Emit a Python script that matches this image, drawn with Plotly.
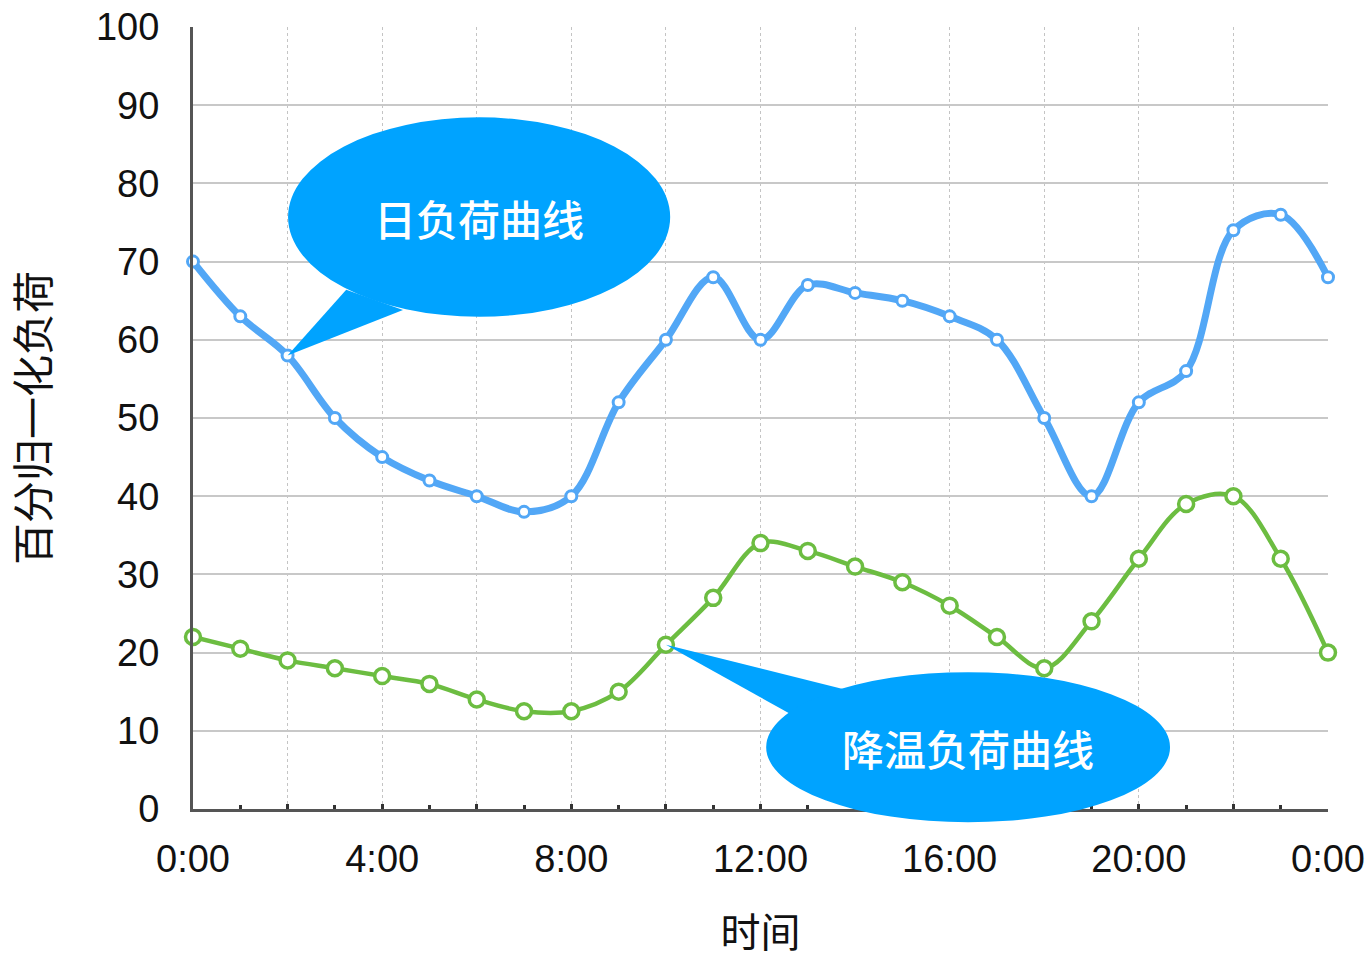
import plotly.graph_objects as go

# Hour of day (0 → 24)
hours = list(range(25))

# Normalised daily load (%)
daily_load = [70, 63, 58, 50, 45, 42, 40, 38, 40, 52, 60, 68, 60,
              67, 66, 65, 63, 60, 50, 40, 52, 56, 74, 76, 68]

# Normalised cooling load (%)
cooling_load = [22, 20.5, 19, 18, 17, 16, 14, 12.5, 12.5, 15, 21, 27, 34,
                33, 31, 29, 26, 22, 18, 24, 32, 39, 40, 32, 20]

x_tick_vals = list(range(0, 25, 2))
x_tick_text = ["0:00" if h % 24 == 0 else (f"{h}:00" if h % 4 == 0 else "") for h in x_tick_vals]

X_RANGE = [0, 24]
Y_RANGE = [0, 100]

BLUE = "#52A7F6"
GREEN = "#6CBD41"
BUBBLE = "#00A3FF"
NUM_FONT = "Liberation Sans, Arial, Helvetica, sans-serif"
CJK_FONT = "Noto Sans CJK SC, sans-serif"

fig = go.Figure()

fig.add_trace(go.Scatter(
    x=hours, y=daily_load, mode="lines+markers", name="日负荷曲线",
    line=dict(color=BLUE, width=7, shape="spline", smoothing=1),
    marker=dict(size=11, color="white", line=dict(color=BLUE, width=3)),
    cliponaxis=False,
))
fig.add_trace(go.Scatter(
    x=hours, y=cooling_load, mode="lines+markers", name="降温负荷曲线",
    line=dict(color=GREEN, width=4.5, shape="spline", smoothing=1),
    marker=dict(size=15, color="white", line=dict(color=GREEN, width=3.5)),
    cliponaxis=False,
))


def to_px(x):
    return (x - X_RANGE[0]) / (X_RANGE[1] - X_RANGE[0])


def to_py(y):
    return (y - Y_RANGE[0]) / (Y_RANGE[1] - Y_RANGE[0])


def speech_bubble(text, center, radii, base_a, base_b, tip):
    cx, cy = center
    rx, ry = radii
    fig.add_shape(
        type="path", xref="paper", yref="paper", layer="above",
        path=(f"M {to_px(base_a[0])},{to_py(base_a[1])} "
              f"L {to_px(tip[0])},{to_py(tip[1])} "
              f"L {to_px(base_b[0])},{to_py(base_b[1])} Z"),
        fillcolor=BUBBLE, line=dict(width=0),
    )
    fig.add_shape(
        type="circle", xref="paper", yref="paper", layer="above",
        x0=to_px(cx - rx), x1=to_px(cx + rx),
        y0=to_py(cy - ry), y1=to_py(cy + ry),
        fillcolor=BUBBLE, line=dict(width=0),
    )
    fig.add_annotation(
        x=to_px(cx), y=to_py(cy), xref="paper", yref="paper",
        xanchor="center", yanchor="middle",
        text=text, showarrow=False,
        font=dict(family=CJK_FONT, size=42, color="white", weight=500),
    )


speech_bubble("日负荷曲线", center=(6.05, 75.7), radii=(4.04, 12.75),
              base_a=(3.24, 66.4), base_b=(4.44, 63.8),
              tip=(hours[2], daily_load[2]))
speech_bubble("降温负荷曲线", center=(16.39, 7.9), radii=(4.27, 9.6),
              base_a=(12.71, 11.9), base_b=(13.91, 15.1),
              tip=(hours[10], cooling_load[10]))

fig.update_layout(
    width=1370, height=959,
    margin=dict(l=193, r=42, t=27, b=150),
    paper_bgcolor="white", plot_bgcolor="white",
    showlegend=False,
    font=dict(family=NUM_FONT, size=38, color="#111111"),
)

fig.update_xaxes(
    range=X_RANGE, automargin=False,
    tickmode="array", tickvals=x_tick_vals, ticktext=x_tick_text,
    ticks="inside", ticklen=5, tickwidth=3, tickcolor="#333333",
    ticklabelstandoff=14,
    showgrid=True, gridcolor="#C4C4C4", gridwidth=1, griddash="dot",
    minor=dict(tickmode="linear", tick0=0, dtick=1, ticks="inside",
               ticklen=4, tickwidth=3, tickcolor="#333333", showgrid=False),
    showline=True, linecolor="#555555", linewidth=3,
    zeroline=False,
    tickfont=dict(family=NUM_FONT, size=38, color="#111111"),
    title=dict(text="时间", font=dict(family=CJK_FONT, size=40, color="#111111"),
               standoff=45),
)

fig.update_yaxes(
    range=Y_RANGE, tickmode="linear", tick0=0, dtick=10, automargin=False,
    ticks="", ticklabelstandoff=23,
    showgrid=True, gridcolor="#C8C8C8", gridwidth=2,
    showline=True, linecolor="#555555", linewidth=3,
    zeroline=False,
    tickfont=dict(family=NUM_FONT, size=38, color="#111111"),
    title=dict(text="百分归一化负荷", font=dict(family=CJK_FONT, size=42, color="#111111"),
               standoff=44),
)

fig.write_html("out.html")
